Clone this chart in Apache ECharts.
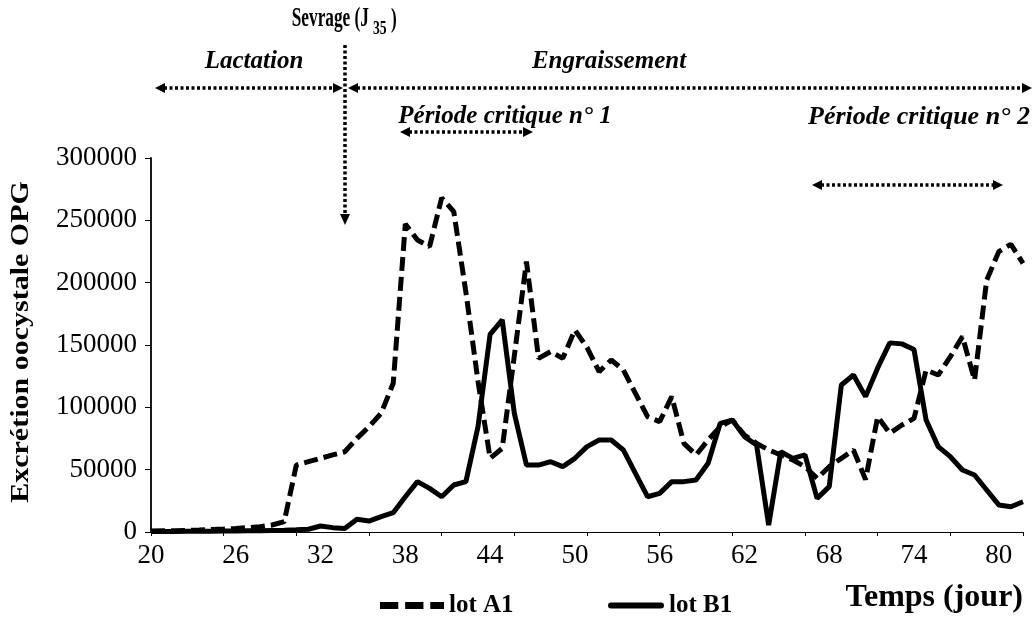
<!DOCTYPE html>
<html>
<head>
<meta charset="utf-8">
<script src="https://cdn.jsdelivr.net/npm/echarts@6/dist/echarts.min.js"></script>
<style>
html,body{margin:0;padding:0;background:#fff;}
#chart{width:1034px;height:637px;}
</style>
</head>
<body>
<div id="chart"></div>
<script>
// x tick labels (days), shown every 7th sample
const dayLabels = ['20','26','32','38','44','50','56','62','68','74','80'];
// y ticks
const yMin = 0, yMax = 300000, yStep = 50000;
// Oocyst excretion (OPG) per sample
const lotA1 = [800,1000,1100,1300,1600,2100,2400,2900,3500,4300,5600,8300,
  53700,56400,59100,61800,64400,75100,84500,95200,119300,247100,234200,228900,
  268000,257000,192500,120900,59100,67100,141400,216900,139300,144700,139300,162000,
  148000,128600,138000,130000,111200,92500,88500,108600,71100,61800,73800,84500,
  89800,77800,71100,65800,61800,57800,52400,43000,52400,59100,65800,42000,
  92500,79200,85800,91100,129900,125900,140600,156700,121900,202000,224900,230800,215500];
const lotB1 = [500,500,500,600,600,700,800,900,1000,1100,1300,1500,
  1800,2200,4800,3500,2900,10200,8800,12300,15500,28300,40400,35000,
  28300,37700,40400,84500,158600,170100,95200,53700,53700,56400,52400,59100,
  68500,73800,73800,65800,47100,28300,31000,40400,40400,41700,55100,87200,
  89800,76500,69800,5600,64400,59100,61800,27000,36400,117900,125900,108600,
  131600,151700,150900,146400,89800,68500,60400,49700,45700,33700,21700,20300,24300];
const samples = lotA1.map((_, i) => String(i));

const SERIF = '"Liberation Serif", "Times New Roman", serif';
const chart = echarts.init(document.getElementById('chart'));

function hArrow(x1, x2, y) {
  const h = 5, L = 10;
  return [
    {type:'line', shape:{x1:x1+L-1, y1:y, x2:x2-L+1, y2:y}, style:{stroke:'#000', lineWidth:3.5, lineDash:[3,2.5]}},
    {type:'polygon', shape:{points:[[x1,y],[x1+L,y-h],[x1+L,y+h]]}, style:{fill:'#000'}},
    {type:'polygon', shape:{points:[[x2,y],[x2-L,y-h],[x2-L,y+h]]}, style:{fill:'#000'}}
  ];
}
function vArrow(x, y1, y2) {
  const h = 5, L = 11;
  return [
    {type:'line', shape:{x1:x, y1:y1, x2:x, y2:y2-L+1}, style:{stroke:'#000', lineWidth:3.5, lineDash:[3,2.5]}},
    {type:'polygon', shape:{points:[[x,y2],[x-h,y2-L],[x+h,y2-L]]}, style:{fill:'#000'}}
  ];
}
function txt(x, y, text, font, align, sx) {
  return {type:'text', x:x, y:y, scaleX: sx || 1,
    style:{text:text, font:font, fill:'#000', align:align||'center', verticalAlign:'middle'}};
}
const fBI = 'italic bold 25px ' + SERIF;

const graphics = [].concat(
  [txt(369, 19, 'Sevrage (J', 'bold 27px ' + SERIF, 'right', 0.64),
   txt(373, 29, '35', 'bold 19px ' + SERIF, 'left', 0.72),
   txt(391, 20, ')', 'bold 27px ' + SERIF, 'left', 0.64),
   txt(254, 62, 'Lactation', fBI),
   txt(609, 62, 'Engraissement', fBI),
   txt(505, 117, 'Période critique n° 1', fBI),
   txt(1030, 117, 'Période critique n° 2', 'italic bold 26px ' + SERIF, 'right'),
   txt(1023, 598, 'Temps (jour)', 'bold 32px ' + SERIF, 'right'),
   {type:'text', x:22, y:342, rotation:Math.PI/2, scaleX:1.2,
    style:{text:'Excrétion oocystale OPG', font:'bold 25px ' + SERIF, fill:'#000', align:'center', verticalAlign:'middle'}}],
  vArrow(345, 45, 225),
  hArrow(155, 343, 88),
  hArrow(348, 1032, 88),
  hArrow(400, 533, 132),
  hArrow(812, 1003, 185)
);

const legendText = {fontFamily: SERIF, fontWeight:'bold', fontSize: 25, color:'#000'};
chart.setOption({
  animation: false,
  backgroundColor: '#fff',
  grid: {left: 151, right: 11, top: 158, bottom: 105, containLabel: false},
  legend: [
    {data:['lot A1'], left: 375, top: 588, itemWidth: 64, itemHeight: 8,
     icon: 'path://M0,0H16V6H0Z M22,0H38V6H22Z M44,0H56V6H44Z', textStyle: legendText},
    {data:['lot B1'], left: 603, top: 588, itemWidth: 56, itemHeight: 8,
     icon: 'path://M3,0H53A3,3 0 0 1 53,6H3A3,3 0 0 1 3,0Z', textStyle: legendText}
  ],
  xAxis: {
    type: 'category', data: samples, boundaryGap: false,
    axisLine: {lineStyle:{color:'#000', width:1.2}},
    axisTick: {interval: 5, length: 4, lineStyle:{color:'#000'}},
    axisLabel: {interval: 6, margin: 10, color:'#000', fontFamily: SERIF, fontSize: 27,
      formatter: (v, idx) => dayLabels[Math.round(idx / 7)] || ''},
    splitLine: {show:false}
  },
  yAxis: {
    type: 'value', min: yMin, max: yMax, interval: yStep,
    axisLine: {show:true, lineStyle:{color:'#000', width:1.8}},
    axisTick: {show:true, length: 6, lineStyle:{color:'#000'}},
    axisLabel: {color:'#000', fontFamily: SERIF, fontSize: 27, margin: 14,
      formatter: (v) => String(v)},
    splitLine: {show:false}
  },
  series: [
    {name:'lot A1', type:'line', data: lotA1, symbol:'none', smooth:false,
     lineStyle:{color:'#000', width:5, type:[14,6], cap:'butt'}, itemStyle:{color:'#000'}},
    {name:'lot B1', type:'line', data: lotB1, symbol:'none', smooth:false,
     lineStyle:{color:'#000', width:5, type:'solid'}, itemStyle:{color:'#000'}}
  ],
  graphic: graphics
});
</script>
</body>
</html>
